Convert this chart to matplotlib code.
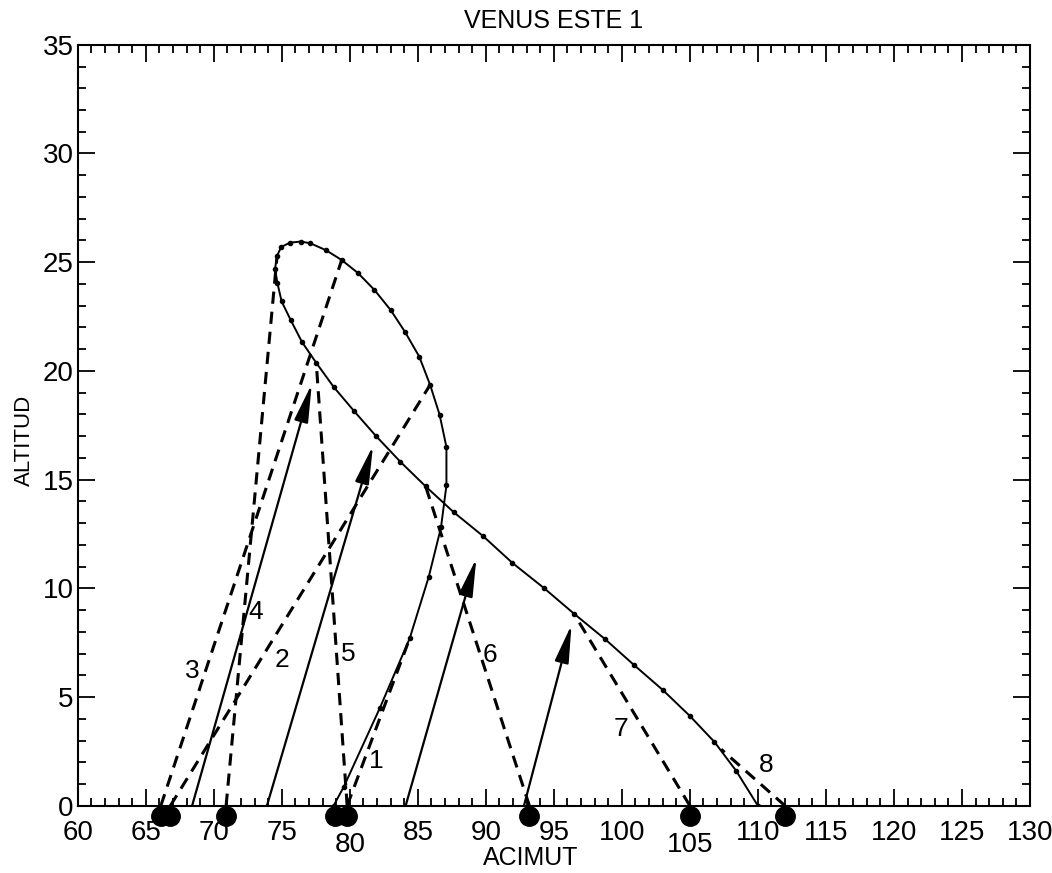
import numpy as np
import matplotlib.pyplot as plt
from matplotlib.ticker import MultipleLocator

plt.rcParams['font.family'] = ['Liberation Sans', 'DejaVu Sans']

# Trayectoria (acimut, altitud)
curve_az = [78.8, 79.55, 82.2, 84.4, 85.8, 86.7, 87.1, 87.1, 86.6, 85.9, 85.1, 84.05,
            83.0, 81.8, 80.6, 79.4, 78.25, 77.1, 76.4, 75.6, 74.95, 74.65, 74.5, 74.67,
            74.98, 75.65, 76.48, 77.53, 78.8, 80.3, 81.9, 83.7, 85.57, 87.64, 89.8,
            91.95, 94.24, 96.47, 98.77, 100.9, 103.0, 105.0, 106.8, 108.4, 110.0]
curve_alt = [0.0, 0.87, 4.49, 7.70, 10.53, 12.8, 14.74, 16.5, 17.98, 19.36, 20.66, 21.8,
             22.8, 23.73, 24.5, 25.1, 25.55, 25.87, 25.95, 25.9, 25.7, 25.3, 24.7, 24.05,
             23.2, 22.34, 21.33, 20.37, 19.27, 18.16, 17.02, 15.83, 14.69, 13.5, 12.4,
             11.17, 10.03, 8.84, 7.66, 6.47, 5.33, 4.13, 2.94, 1.61, 0.0]

# Puntos en el horizonte
horizon_az = [66.1, 66.8, 70.9, 78.9, 79.8, 93.2, 105.0, 112.0]

# Lineas discontinuas numeradas
dash_labels = ['1', '2', '3', '4', '5', '6', '7', '8']
dash_az0 = [79.8, 66.8, 66.1, 70.9, 79.8, 93.2, 105.0, 112.0]
dash_az1 = [84.4, 85.9, 79.4, 74.65, 77.53, 85.57, 96.47, 107.3]
dash_alt1 = [7.7, 19.36, 25.1, 25.3, 20.37, 14.69, 8.84, 2.6]
label_az = [81.95, 75.0, 68.4, 73.1, 79.9, 90.3, 99.9, 110.6]
label_alt = [2.04, 6.7, 6.2, 8.9, 6.98, 6.95, 3.55, 1.86]

# Flechas
arrow_az0 = [68.4, 73.9, 84.1, 92.8]
arrow_az1 = [77.2, 81.7, 89.3, 96.3]
arrow_alt1 = [19.4, 16.56, 11.38, 8.33]

fig = plt.figure(figsize=(10.52, 8.73), dpi=100)
ax = fig.add_axes([0.074, 0.077, 0.905, 0.8717])

ax.plot(curve_az, curve_alt, '-', color='black', lw=1.4, marker='o', ms=3, zorder=3)

for i in range(len(dash_labels)):
    ax.plot([dash_az0[i], dash_az1[i]], [0, dash_alt1[i]], color='black', lw=2.2,
            dashes=(4, 2.6), zorder=2)
    ax.text(label_az[i], label_alt[i], dash_labels[i], fontsize=19, ha='center', va='center')

for i in range(len(arrow_az0)):
    ax.annotate('', xy=(arrow_az1[i], arrow_alt1[i]), xytext=(arrow_az0[i], 0),
                arrowprops=dict(arrowstyle='-|>,head_length=1.3,head_width=0.24',
                                mutation_scale=18, lw=1.6, color='black',
                                shrinkA=0, shrinkB=0), zorder=4)

ax.plot(horizon_az, [-0.45] * len(horizon_az), 'o', color='black', ms=14,
        clip_on=False, zorder=5)

ax.set_xlim(60, 130)
ax.set_ylim(0, 35)
ax.xaxis.set_major_locator(MultipleLocator(5))
ax.xaxis.set_minor_locator(MultipleLocator(1))
ax.yaxis.set_major_locator(MultipleLocator(5))
ax.yaxis.set_minor_locator(MultipleLocator(1))
ax.tick_params(which='both', direction='in', top=True, right=True, width=1.3,
               labelsize=20)
ax.tick_params(which='major', length=12)
ax.tick_params(which='minor', length=6)
ax.tick_params(axis='x', pad=10)
ax.tick_params(axis='y', pad=3)
for s in ax.spines.values():
    s.set_linewidth(1.5)

for lab in ax.get_xticklabels():
    if lab.get_text() in ('80', '105'):
        lab.set_y(-0.016)

ax.set_title('VENUS ESTE 1', fontsize=18, pad=12)
ax.set_xlabel('ACIMUT', fontsize=18)
ax.set_ylabel('ALTITUD', fontsize=16)
ax.xaxis.set_label_coords(0.476, -0.053)
ax.yaxis.set_label_coords(-0.045, 0.48)

plt.savefig('out.png', dpi=100)
